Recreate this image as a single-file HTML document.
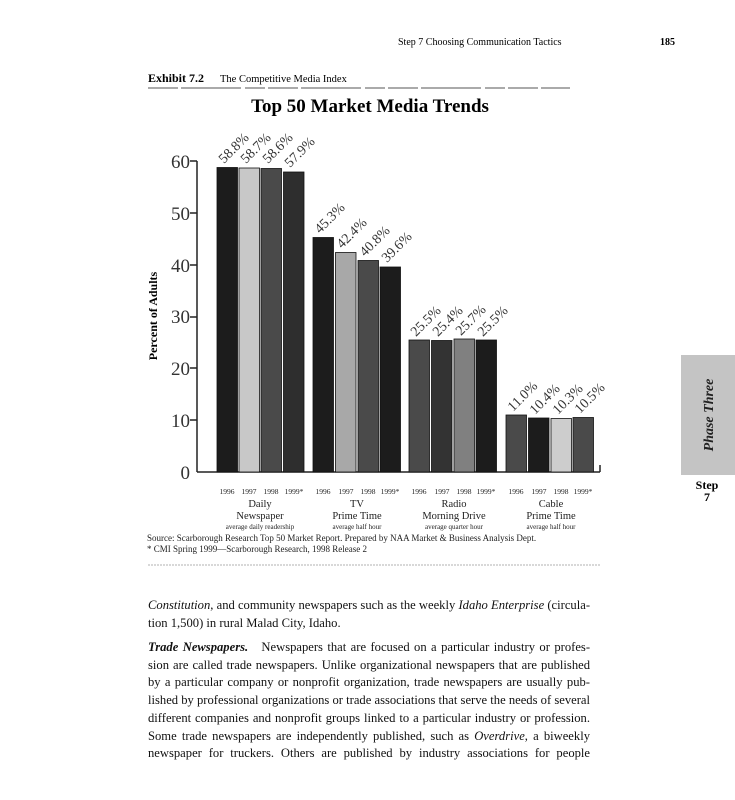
<!DOCTYPE html>
<html><head><meta charset="utf-8"><style>
body{margin:0;background:#fff;width:735px;height:800px;overflow:hidden;position:relative;font-family:"Liberation Serif",serif;color:#111}
svg{position:absolute;left:0;top:0}
.p{position:absolute;left:148px;width:442px;font-size:12.6px;line-height:17.7px}
.p div{text-align:justify;text-align-last:justify;white-space:nowrap;overflow:visible}
.p div.l{text-align-last:left}
</style></head><body>
<svg width="735" height="800" font-family="Liberation Serif, serif">
<text x="398" y="45" font-size="10">Step 7   Choosing Communication Tactics</text>
<text x="660" y="45" font-size="10" font-weight="bold">185</text>
<text x="148" y="82" font-size="12" font-weight="bold">Exhibit 7.2</text>
<text x="220" y="82" font-size="10.5">The Competitive Media Index</text>
<line x1="148" y1="88" x2="570" y2="88" stroke="#555" stroke-width="1" stroke-dasharray="30 3 60 4 20 3"/>
<text x="370" y="112" font-size="19" font-weight="bold" text-anchor="middle">Top 50 Market Media Trends</text>
<text transform="translate(157,316) rotate(-90)" font-size="12" font-weight="bold" text-anchor="middle">Percent of Adults</text>
<g font-size="19" text-anchor="end" fill="#333">
<text x="190" y="168">60</text><text x="190" y="220">50</text><text x="190" y="272">40</text>
<text x="190" y="323">30</text><text x="190" y="375">20</text><text x="190" y="427">10</text><text x="190" y="479">0</text>
</g>
<g stroke="#222" stroke-width="1.5">
<line x1="197" y1="161" x2="197" y2="472"/><line x1="197" y1="472" x2="600" y2="472"/>
<line x1="600" y1="465" x2="600" y2="472"/>
<line x1="190" y1="161" x2="197" y2="161"/><line x1="190" y1="213" x2="197" y2="213"/>
<line x1="190" y1="265" x2="197" y2="265"/><line x1="190" y1="317" x2="197" y2="317"/>
<line x1="190" y1="368" x2="197" y2="368"/><line x1="190" y1="420" x2="197" y2="420"/>
</g>
<g stroke="#111" stroke-width="0.8">
<rect x="217" y="167.5" width="20.5" height="304.5" fill="#1c1c1c"/>
<rect x="239" y="168" width="20.5" height="304" fill="#c8c8c8"/>
<rect x="261" y="168.5" width="20.5" height="303.5" fill="#4a4a4a"/>
<rect x="283.5" y="172" width="20.5" height="300" fill="#2e2e2e"/>
<rect x="313" y="237.5" width="20.5" height="234.5" fill="#1c1c1c"/>
<rect x="335.5" y="252.5" width="20.5" height="219.5" fill="#a8a8a8"/>
<rect x="358" y="260.5" width="20.5" height="211.5" fill="#4a4a4a"/>
<rect x="380" y="267" width="20.5" height="205" fill="#1c1c1c"/>
<rect x="409" y="340" width="20.5" height="132" fill="#4a4a4a"/>
<rect x="431.5" y="340.5" width="20.5" height="131.5" fill="#333"/>
<rect x="454" y="339" width="20.5" height="133" fill="#808080"/>
<rect x="476" y="340" width="20.5" height="132" fill="#1c1c1c"/>
<rect x="506" y="415" width="20.5" height="57" fill="#4a4a4a"/>
<rect x="528.5" y="418" width="20.5" height="54" fill="#1c1c1c"/>
<rect x="551" y="418.5" width="20.5" height="53.5" fill="#cdcdcd"/>
<rect x="573" y="417.5" width="20.5" height="54.5" fill="#4a4a4a"/>
</g>
<g font-size="14" fill="#333">
<text transform="translate(224,164) rotate(-45)">58.8%</text>
<text transform="translate(246,164) rotate(-45)">58.7%</text>
<text transform="translate(268,164) rotate(-45)">58.6%</text>
<text transform="translate(290,168) rotate(-45)">57.9%</text>
<text transform="translate(320,234) rotate(-45)">45.3%</text>
<text transform="translate(342,249) rotate(-45)">42.4%</text>
<text transform="translate(365,257) rotate(-45)">40.8%</text>
<text transform="translate(387,263) rotate(-45)">39.6%</text>
<text transform="translate(416,337) rotate(-45)">25.5%</text>
<text transform="translate(438,337) rotate(-45)">25.4%</text>
<text transform="translate(461,336) rotate(-45)">25.7%</text>
<text transform="translate(483,337) rotate(-45)">25.5%</text>
<text transform="translate(513,412) rotate(-45)">11.0%</text>
<text transform="translate(535,415) rotate(-45)">10.4%</text>
<text transform="translate(558,415) rotate(-45)">10.3%</text>
<text transform="translate(580,414) rotate(-45)">10.5%</text>
</g>
<g font-size="7.5" text-anchor="middle" fill="#222">
<text x="227" y="494">1996</text><text x="249" y="494">1997</text><text x="271" y="494">1998</text><text x="294" y="494">1999*</text>
<text x="323" y="494">1996</text><text x="346" y="494">1997</text><text x="368" y="494">1998</text><text x="390" y="494">1999*</text>
<text x="419" y="494">1996</text><text x="442" y="494">1997</text><text x="464" y="494">1998</text><text x="486" y="494">1999*</text>
<text x="516" y="494">1996</text><text x="539" y="494">1997</text><text x="561" y="494">1998</text><text x="583" y="494">1999*</text>
</g>
<g text-anchor="middle" fill="#222">
<g font-size="10.5">
<text x="260" y="507">Daily</text><text x="260" y="519">Newspaper</text>
<text x="357" y="507">TV</text><text x="357" y="519">Prime Time</text>
<text x="454" y="507">Radio</text><text x="454" y="519">Morning Drive</text>
<text x="551" y="507">Cable</text><text x="551" y="519">Prime Time</text>
</g>
<g font-size="7">
<text x="260" y="529">average daily readership</text><text x="357" y="529">average half hour</text>
<text x="454" y="529">average quarter hour</text><text x="551" y="529">average half hour</text>
</g>
</g>
<text x="147" y="541" font-size="9" fill="#222">Source: Scarborough Research Top 50 Market Report. Prepared by NAA Market &amp; Business Analysis Dept.</text>
<text x="147" y="552" font-size="9" fill="#222">* CMI Spring 1999—Scarborough Research, 1998 Release 2</text>
<line x1="148" y1="565" x2="600" y2="565" stroke="#999" stroke-width="0.8" stroke-dasharray="2 1"/>
<rect x="681" y="355" width="54" height="120" fill="#c4c4c4"/>
<text transform="translate(713,415) rotate(-90)" font-size="14" font-style="italic" font-weight="bold" text-anchor="middle" fill="#222">Phase Three</text>
<text x="707" y="489" font-size="12" font-weight="bold" text-anchor="middle">Step</text>
<text x="707" y="501" font-size="12" font-weight="bold" text-anchor="middle">7</text>
</svg>
<div class="p" style="top:597px">
<div><i>Constitution</i>, and community newspapers such as the weekly <i>Idaho Enterprise</i> (circula-</div>
<div class="l">tion 1,500) in rural Malad City, Idaho.</div>
</div>
<div class="p" style="top:639px">
<div><b><i>Trade Newspapers.</i></b>&nbsp;&nbsp; Newspapers that are focused on a particular industry or profes-</div>
<div>sion are called trade newspapers. Unlike organizational newspapers that are published</div>
<div>by a particular company or nonprofit organization, trade newspapers are usually pub-</div>
<div>lished by professional organizations or trade associations that serve the needs of several</div>
<div>different companies and nonprofit groups linked to a particular industry or profession.</div>
<div>Some trade newspapers are independently published, such as <i>Overdrive</i>, a biweekly</div>
<div>newspaper for truckers. Others are published by industry associations for people</div>
</div>
</body></html>
